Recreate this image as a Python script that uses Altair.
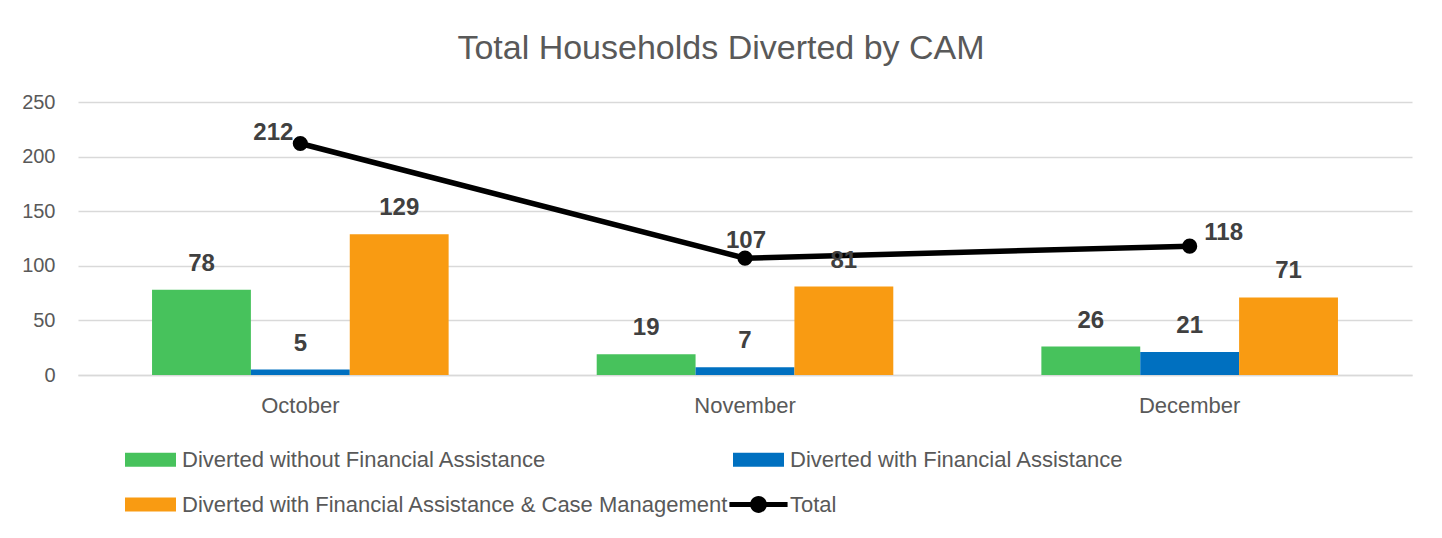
import altair as alt
import pandas as pd

months = ["October", "November", "December"]
series = [
    "Diverted without Financial Assistance",
    "Diverted with Financial Assistance",
    "Diverted with Financial Assistance & Case Management",
]
without_fa = [78, 19, 26]
with_fa = [5, 7, 21]
with_fa_cm = [129, 81, 71]
total = [212, 107, 118]
legend_names = series + ["Total"]
colors = ["#47C25C", "#0070C0", "#F99B12", "#000000"]

rows = []
for i, m in enumerate(months):
    for s, vals in zip(series, [without_fa, with_fa, with_fa_cm]):
        rows.append({"month": m, "series": s, "value": vals[i]})
bars_df = pd.DataFrame(rows)
total_df = pd.DataFrame({"month": months, "series": "Total", "value": total})

FONT = "Liberation Sans"
GRAY = "#595959"
LABEL = "#404040"

xenc = alt.X("month:N", sort=months, title=None,
             scale=alt.Scale(paddingInner=0.333, paddingOuter=0.1665),
             axis=alt.Axis(labelFontSize=22, labelColor=GRAY, labelFont=FONT,
                           ticks=False, domainColor="#D9D9D9", domainWidth=1.5,
                           labelPadding=20, labelAngle=0))
yenc = alt.Y("value:Q", title=None,
             scale=alt.Scale(domain=[0, 250], nice=False),
             axis=alt.Axis(values=[0, 50, 100, 150, 200, 250], labelFontSize=20,
                           labelColor=GRAY, labelFont=FONT, ticks=False, domain=False,
                           gridColor="#D9D9D9", gridWidth=1.5, labelPadding=23))

color_scale = alt.Scale(domain=legend_names, range=colors)
rect = "M-1,-0.27L1,-0.27L1,0.27L-1,0.27Z"
linedot = ("M-1.14,-0.1L1.14,-0.1L1.14,0.1L-1.14,0.1Z "
           "M0.33,0A0.33,0.33 0 1,1 -0.33,0A0.33,0.33 0 1,1 0.33,0Z")
shape_scale = alt.Scale(domain=legend_names, range=[rect, rect, rect, linedot])

leg = alt.Legend(title=None, orient="none", legendX=47, legendY=332,
                 direction="horizontal", columns=2, columnPadding=0, rowPadding=8,
                 symbolSize=2601, labelFontSize=22, labelFont=FONT,
                 labelColor=GRAY, labelOffset=6, labelLimit=0,
                 symbolStrokeWidth=0, symbolOpacity=1)

bars = alt.Chart(bars_df).mark_bar().encode(
    x=xenc,
    xOffset=alt.XOffset("series:N", sort=series, scale=alt.Scale(paddingInner=0, paddingOuter=0)),
    y=yenc,
    color=alt.Color("series:N", scale=color_scale, legend=leg),
)

bar_text = alt.Chart(bars_df).mark_text(
    baseline="bottom", dy=-14, fontSize=24, fontWeight="bold", font=FONT, color=LABEL
).encode(
    x=alt.X("month:N", sort=months),
    xOffset=alt.XOffset("series:N", sort=series),
    y="value:Q",
    text="value:Q",
)

line = alt.Chart(total_df).mark_line(color="black", strokeWidth=5.5).encode(
    x=alt.X("month:N", sort=months),
    y="value:Q",
)

points = alt.Chart(total_df).mark_circle(color="black", size=230, opacity=1).encode(
    x=alt.X("month:N", sort=months),
    y="value:Q",
)

# invisible carrier for the combined legend (colour + symbol shape)
legend_carrier = alt.Chart(total_df).mark_point(filled=True, opacity=0).encode(
    x=alt.X("month:N", sort=months),
    y="value:Q",
    color=alt.Color("series:N", scale=color_scale, legend=leg),
    shape=alt.Shape("series:N", scale=shape_scale, legend=leg),
)

def total_label(month, dx, dy):
    return alt.Chart(total_df).transform_filter(
        alt.datum.month == month
    ).mark_text(baseline="bottom", dx=dx, dy=dy, fontSize=24, fontWeight="bold",
                font=FONT, color=LABEL).encode(
        x=alt.X("month:N", sort=months),
        y="value:Q",
        text="value:Q",
    )

labels = [total_label("October", -27, 2), total_label("November", 1, -5),
          total_label("December", 34, -1)]

chart = alt.layer(bars, line, points, legend_carrier, bar_text, *labels).resolve_scale(
    color="shared"
).properties(
    width=1334, height=273,
    padding={"left": 70, "top": 94, "right": 22, "bottom": 150},
    autosize=alt.AutoSizeParams(type="none"),
    title=alt.TitleParams("Total Households Diverted by CAM", fontSize=34,
                          font=FONT, fontWeight="normal", color=GRAY,
                          anchor="middle", frame="group", dx=-24, offset=26),
).configure_view(stroke=None)

chart.save("out.html", embed_options={"renderer": "svg", "actions": False})
